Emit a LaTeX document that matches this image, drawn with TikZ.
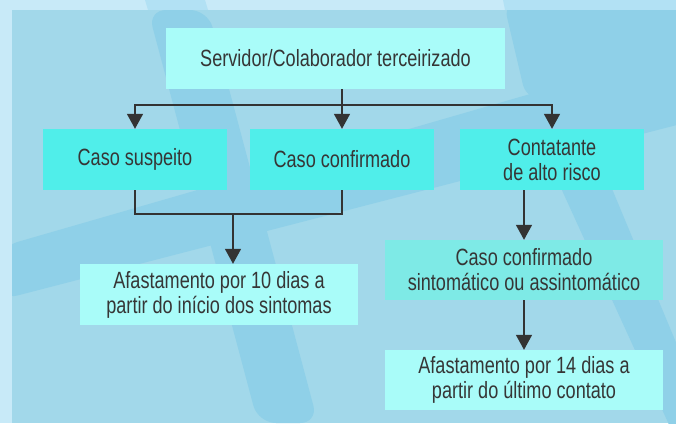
\documentclass[tikz,border=0pt]{standalone}
\usepackage{fontspec}
\setmainfont{Liberation Sans}[FakeStretch=0.77]
\usetikzlibrary{arrows.meta}
\definecolor{framebg}{HTML}{C8EAF8}
\definecolor{framedk}{HTML}{B2E1F4}
\definecolor{panelbg}{HTML}{A2D8EA}
\definecolor{paneldk}{HTML}{8FD0E8}
\definecolor{boxlight}{HTML}{A9FCF9}
\definecolor{boxmid}{HTML}{50EEEA}
\definecolor{boxsin}{HTML}{7EEAE6}
\definecolor{txt}{HTML}{363636}
\definecolor{ln}{HTML}{333333}
\begin{document}
\begin{tikzpicture}[x=1pt,y=-1pt,
  flowbox/.style={inner sep=0pt, align=center, text=txt,
    font=\fontsize{23.5}{25}\selectfont},
  lightbox/.style={flowbox, fill=boxlight},
  midbox/.style={flowbox, fill=boxmid},
  sinbox/.style={flowbox, fill=boxsin},
  conn/.style={draw=ln, line width=1.6pt},
  arr/.style={conn, -{Triangle[width=16pt,length=15pt,fill=ln]}}]
\useasboundingbox (0,0) rectangle (676,423);
% background
\fill[framebg] (0,0) rectangle (676,423);
\fill[framedk] (145,0) -- (205,0) -- (208,10) -- (148,10) -- cycle;
\fill[framedk] (503,0) -- (676,0) -- (676,10) -- (505,10) -- cycle;
\fill[panelbg] (12,10) rectangle (676,423);
\begin{scope}
  \clip (12,10) rectangle (676,423);
  \fill[paneldk, rounded corners=18pt] (148,10) -- (208,10) -- (318,423) -- (258,423) -- cycle;
  \fill[paneldk, rounded corners=18pt] (0,247) -- (700,45) -- (700,119) -- (0,300) -- cycle;
  \fill[paneldk, rounded corners=18pt] (503,0) -- (700,0) -- (700,70) -- (527,102) -- cycle;
  \fill[paneldk, rounded corners=18pt] (555,175) -- (600,160) -- (700,400) -- (700,440) -- (676,440) -- cycle;
\end{scope}
% boxes
\node[lightbox, minimum width=339pt, minimum height=61pt] (top) at (335.5,58.5) {Servidor/Colaborador terceirizado};
\node[midbox, minimum width=184pt, minimum height=61pt] (cs) at (135,159.5) {Caso suspeito};
\node[midbox, minimum width=184pt, minimum height=61pt] (cc) at (342,159.5) {Caso confirmado};
\node[midbox, minimum width=184pt, minimum height=61pt] (ct) at (552,159.5) {Contatante\\de alto risco};
\node[lightbox, minimum width=278pt, minimum height=61pt] (af10) at (219,294.5) {Afastamento por 10 dias a\\partir do início dos sintomas};
\node[sinbox, minimum width=278pt, minimum height=60pt] (sin) at (524,270) {Caso confirmado\\sintomático ou assintomático};
\node[lightbox, minimum width=278pt, minimum height=60pt] (af14) at (524,380) {Afastamento por 14 dias a\\partir do último contato};
% connectors
\coordinate (j1) at (342,105);
\coordinate (j2) at (233,214);
\draw[conn] (top.south -| j1) -- (j1);
\draw[arr] (j1) -| (cs.north);
\draw[arr] (j1) -- (cc.north);
\draw[arr] (j1) -| (ct.north);
\draw[conn] (cs.south) |- (j2) -| (cc.south);
\draw[arr] (j2) -- (j2 |- af10.north);
\draw[arr] (ct.south -| sin.north) -- (sin.north);
\draw[arr] (sin.south) -- (af14.north);
\end{tikzpicture}
\end{document}
